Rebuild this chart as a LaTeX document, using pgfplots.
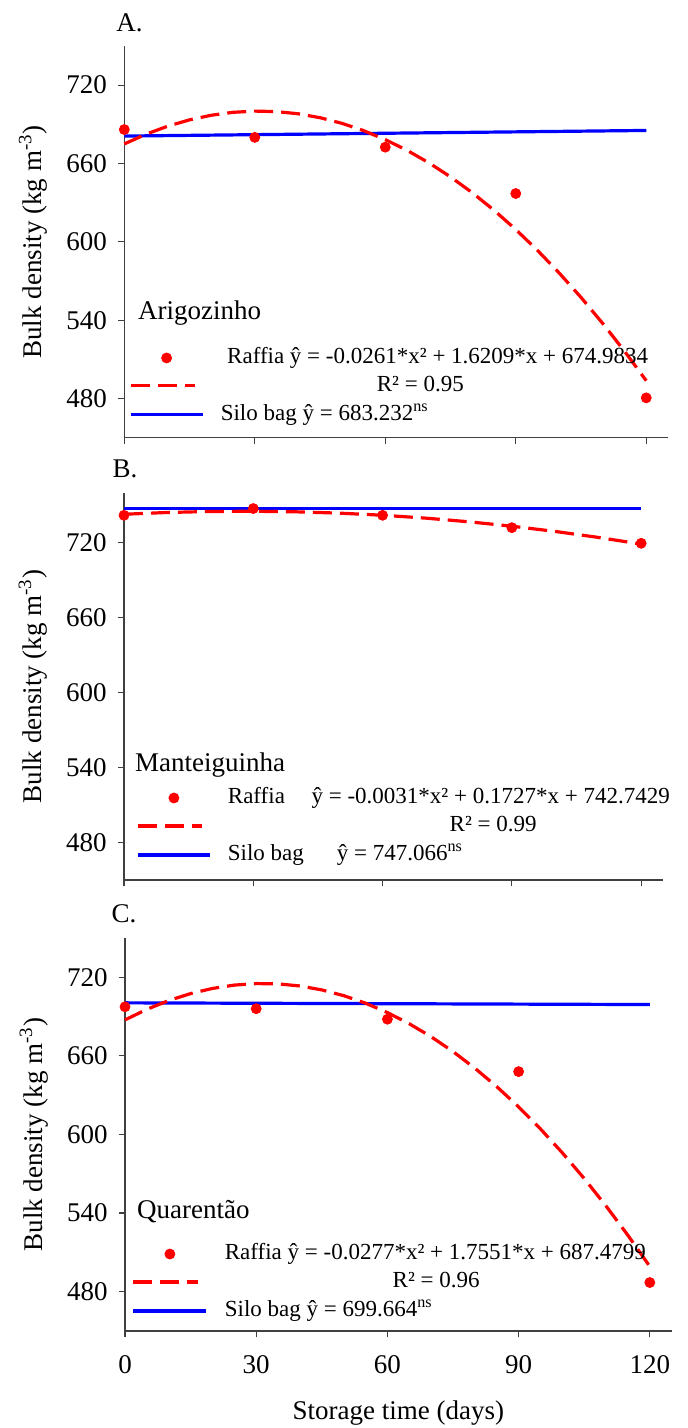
\documentclass[border=0pt]{standalone}
\usepackage{fontspec}
\setmainfont{Liberation Serif}
\usepackage{pgfplots}
\pgfplotsset{compat=1.18}
\newcommand{\tickfont}{\fontsize{13.5}{16}\selectfont}
\newcommand{\legfont}{\fontsize{11.5}{13.5}\selectfont}

\pgfplotsset{
  panel/.style={
    scale only axis, anchor=south west, clip=false,
    axis x line*=bottom, axis y line*=left,
    axis line style={black!75, line width=0.6pt},
    xmin=0, xmax=125, ymin=450,
    xtick={0,30,60,90,120}, ytick={480,540,600,660,720},
    tick align=outside, major tick length=3.2pt,
    tick style={black!75, line width=0.6pt},
    /pgf/number format/assume math mode=true,
    ticklabel style={font=\tickfont},
    xticklabel style={yshift=-5.6pt},
    yticklabel style={xshift=-2pt},
    ylabel={Bulk density (kg m\textsuperscript{-3})},
    ylabel style={font=\tickfont, at={([xshift=-45.5pt]rel axis cs:0,0.5)}, anchor=center},
    legend style={draw=none, fill=none, font=\legfont, inner sep=0pt, outer sep=0pt,
      row sep=2.9pt, anchor=north west,
      nodes={inner sep=0pt, text height=8pt, text depth=2.5pt}},
    legend cell align=left,
  },
  legmark/.style={legend image code/.code={\path (0pt,-5pt) (36pt,5pt); \draw[##1] plot coordinates {(#1,0pt)};}},
  legline/.style={legend image code/.code={\path (0pt,-5pt) (36pt,5pt); \draw[##1] (0pt,0pt) -- (#1,0pt);}},
  rafpts/.style={only marks, mark=*, mark size=2.5pt, color=red, mark options={fill=red, draw=red}},
  rafcurve/.style={color=red, line width=1.6pt, dash pattern=on 9.5pt off 4pt, mark=none},
  silo/.style={color=blue, line width=1.6pt, mark=none},
}

\begin{document}
\begin{tikzpicture}
\useasboundingbox (0,0) rectangle (344pt,714pt);

% ---------------- Panel A ----------------
\begin{axis}[panel, at={(62.15pt,495.15pt)}, width=271.85pt, height=195.85pt,
  ymax=750, xticklabels={},
  legend style={at={(0.0092,0.2303)}, column sep=8.15pt}]
\addplot[silo, forget plot] coordinates {(0,681) (120,685.3)};
\addplot[rafcurve, forget plot] coordinates {
(0,674.98) (5,682.44) (10,688.58) (15,693.42) (20,696.96) (25,699.19) (30,700.12)
(35,699.74) (40,698.06) (45,695.07) (50,690.78) (55,685.18) (60,678.28) (65,670.07)
(70,660.56) (75,649.74) (80,637.62) (85,624.19) (90,609.45) (95,593.42) (100,576.07)
(105,557.43) (110,537.47) (115,516.21) (120,493.65)};
\addplot[rafpts, forget plot] coordinates {(0,686) (30,680) (60,672.5) (90,637) (120,480.5)};
\addlegendimage{rafpts, legmark=17.85pt}
\addlegendentry{\hspace{3.2pt}Raffia ŷ = -0.0261*x² + 1.6209*x + 674.9834}
\addlegendimage{rafcurve, legline=32pt}
\addlegendentry{\hspace{78pt}R² = 0.95}
\addlegendimage{silo, legline=36pt}
\addlegendentry{Silo bag ŷ = 683.232\textsuperscript{ns}}
\node[anchor=west, font=\tickfont, inner sep=0pt] at (rel axis cs:0.0245,0.3176) {Arigozinho};
\node[font=\tickfont, inner sep=0pt] at ([yshift=11.5pt]rel axis cs:0.0096,1) {A.};
\end{axis}

% ---------------- Panel B ----------------
\begin{axis}[panel, at={(62pt,274pt)}, width=269.35pt, height=193.65pt,
  ymax=760, xticklabels={},
  legend style={at={(0.0236,0.2388)}, column sep=8pt}]
\addplot[silo, forget plot] coordinates {(0,747.1) (120,747.1)};
\addplot[rafcurve, forget plot] coordinates {
(0,742.74) (10,744.16) (20,744.96) (30,745.13) (40,744.69) (50,743.63) (60,741.95)
(70,739.64) (80,736.72) (90,733.18) (100,729.01) (110,724.23) (120,718.83)};
\addplot[rafpts, forget plot] coordinates {(0,741.9) (30,747.3) (60,741.9) (90,732) (120,719.5)};
\addlegendimage{rafpts, legmark=17.8pt}
\addlegendentry{Raffia\hspace{13.3pt}ŷ = -0.0031*x² + 0.1727*x + 742.7429}
\addlegendimage{rafcurve, legline=32pt}
\addlegendentry{\hspace{110.9pt}R² = 0.99}
\addlegendimage{silo, legline=36pt}
\addlegendentry{Silo bag\hspace{16.5pt}ŷ = 747.066\textsuperscript{ns}}
\node[anchor=west, font=\tickfont, inner sep=0pt] at (rel axis cs:0.02,0.297) {Manteiguinha};
\node[font=\tickfont, inner sep=0pt] at ([yshift=11.8pt]rel axis cs:0.002,1) {B.};
\end{axis}

% ---------------- Panel C ----------------
\begin{axis}[panel, at={(62.5pt,48.5pt)}, width=273.35pt, height=196.5pt,
  ymax=750,
  xlabel={Storage time (days)},
  xlabel style={font=\tickfont, at={([yshift=-41pt]rel axis cs:0.5,0)}, anchor=center},
  legend style={at={(0.0126,0.2226)}, column sep=8.65pt}]
\addplot[silo, forget plot] coordinates {(0,700.5) (120,699.2)};
\addplot[rafcurve, forget plot] coordinates {
(0,687.48) (5,695.56) (10,702.26) (15,707.57) (20,711.50) (25,714.05) (30,715.20)
(35,714.98) (40,713.36) (45,710.37) (50,705.99) (55,700.22) (60,693.07) (65,684.53)
(70,674.61) (75,663.30) (80,650.61) (85,636.53) (90,621.07) (95,604.22) (100,585.99)
(105,566.37) (110,545.37) (115,522.98) (120,499.21)};
\addplot[rafpts, forget plot] coordinates {(0,697.5) (30,696) (60,688) (90,648) (120,487)};
\addlegendimage{rafpts, legmark=18.2pt}
\addlegendentry{Raffia ŷ = -0.0277*x² + 1.7551*x + 687.4799}
\addlegendimage{rafcurve, legline=32.5pt}
\addlegendentry{\hspace{83.9pt}R² = 0.96}
\addlegendimage{silo, legline=36.25pt}
\addlegendentry{Silo bag ŷ = 699.664\textsuperscript{ns}}
\node[anchor=west, font=\tickfont, inner sep=0pt] at (rel axis cs:0.0216,0.304) {Quarentão};
\node[font=\tickfont, inner sep=0pt] at ([yshift=12pt]rel axis cs:-0.002,1) {C.};
\end{axis}
\end{tikzpicture}
\end{document}
